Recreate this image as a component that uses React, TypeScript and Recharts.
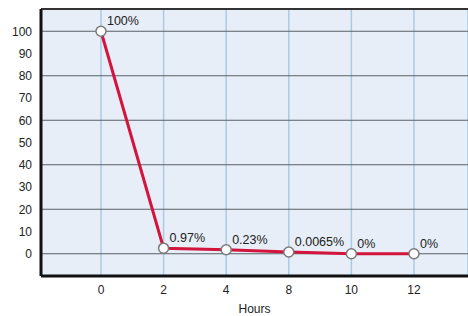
import React from "react";
import { LineChart, Line, XAxis, YAxis, CartesianGrid, ReferenceLine, LabelList } from "recharts";

const hours = ["0", "2", "4", "8", "10", "12"];
const remaining = [100, 2.5, 1.8, 0.8, 0, 0];
const pointLabels = ["100%", "0.97%", "0.23%", "0.0065%", "0%", "0%"];
const yTicks = [0, 10, 20, 30, 40, 50, 60, 70, 80, 90, 100];

const data = hours.map((h, i) => ({ idx: i, hour: h, value: remaining[i], label: pointLabels[i] }));

const FONT = "'Liberation Sans', Arial, Helvetica, sans-serif";

const renderLabel = (props: any) => {
  const { x, y, index } = props;
  return (
    <text x={x + 6} y={y - 6} fontSize={12.5} fontFamily={FONT} fill="#222" textAnchor="start">
      {pointLabels[index]}
    </text>
  );
};

export default function App() {
  return (
    <div style={{ position: "absolute", left: 0, top: 0, width: 468, height: 316, background: "#fff" }}>
      <LineChart width={468} height={316} data={data} margin={{ top: 9, right: 0, left: 0, bottom: 0 }}>
        <CartesianGrid horizontal={false} vertical={true} stroke="#a9cbe6" strokeWidth={1.5} fill="#e7eef7" />
        <CartesianGrid horizontal={true} vertical={false} stroke="#5a5f66" strokeWidth={1.2} />
        <XAxis
          dataKey="idx"
          type="number"
          domain={[-0.958, 5.863]}
          ticks={[0, 1, 2, 3, 4, 5]}
          tickFormatter={(v: number) => hours[v]}
          allowDataOverflow
          height={40}
          tickLine={false}
          axisLine={{ stroke: "#111", strokeWidth: 3 }}
          tick={{ fontSize: 12, fontFamily: FONT, fill: "#222" }}
          tickMargin={3}
          label={{ value: "Hours", position: "insideBottom", offset: 3, fontSize: 12, fontFamily: FONT, fill: "#222" }}
        />
        <YAxis
          type="number"
          domain={[-10, 110]}
          ticks={yTicks}
          allowDataOverflow
          width={41}
          tickLine={false}
          axisLine={{ stroke: "#111", strokeWidth: 3 }}
          tick={{ fontSize: 12, fontFamily: FONT, fill: "#222" }}
          tickMargin={3}
        />
        <ReferenceLine y={110} stroke="#333" strokeWidth={2} ifOverflow="extendDomain" />
        <Line
          dataKey="value"
          stroke="#d3143c"
          strokeWidth={3}
          isAnimationActive={false}
          dot={{ r: 5, fill: "#fff", stroke: "#7a7a7a", strokeWidth: 1.5 }}
        >
          <LabelList dataKey="label" content={renderLabel} />
        </Line>
      </LineChart>
    </div>
  );
}
